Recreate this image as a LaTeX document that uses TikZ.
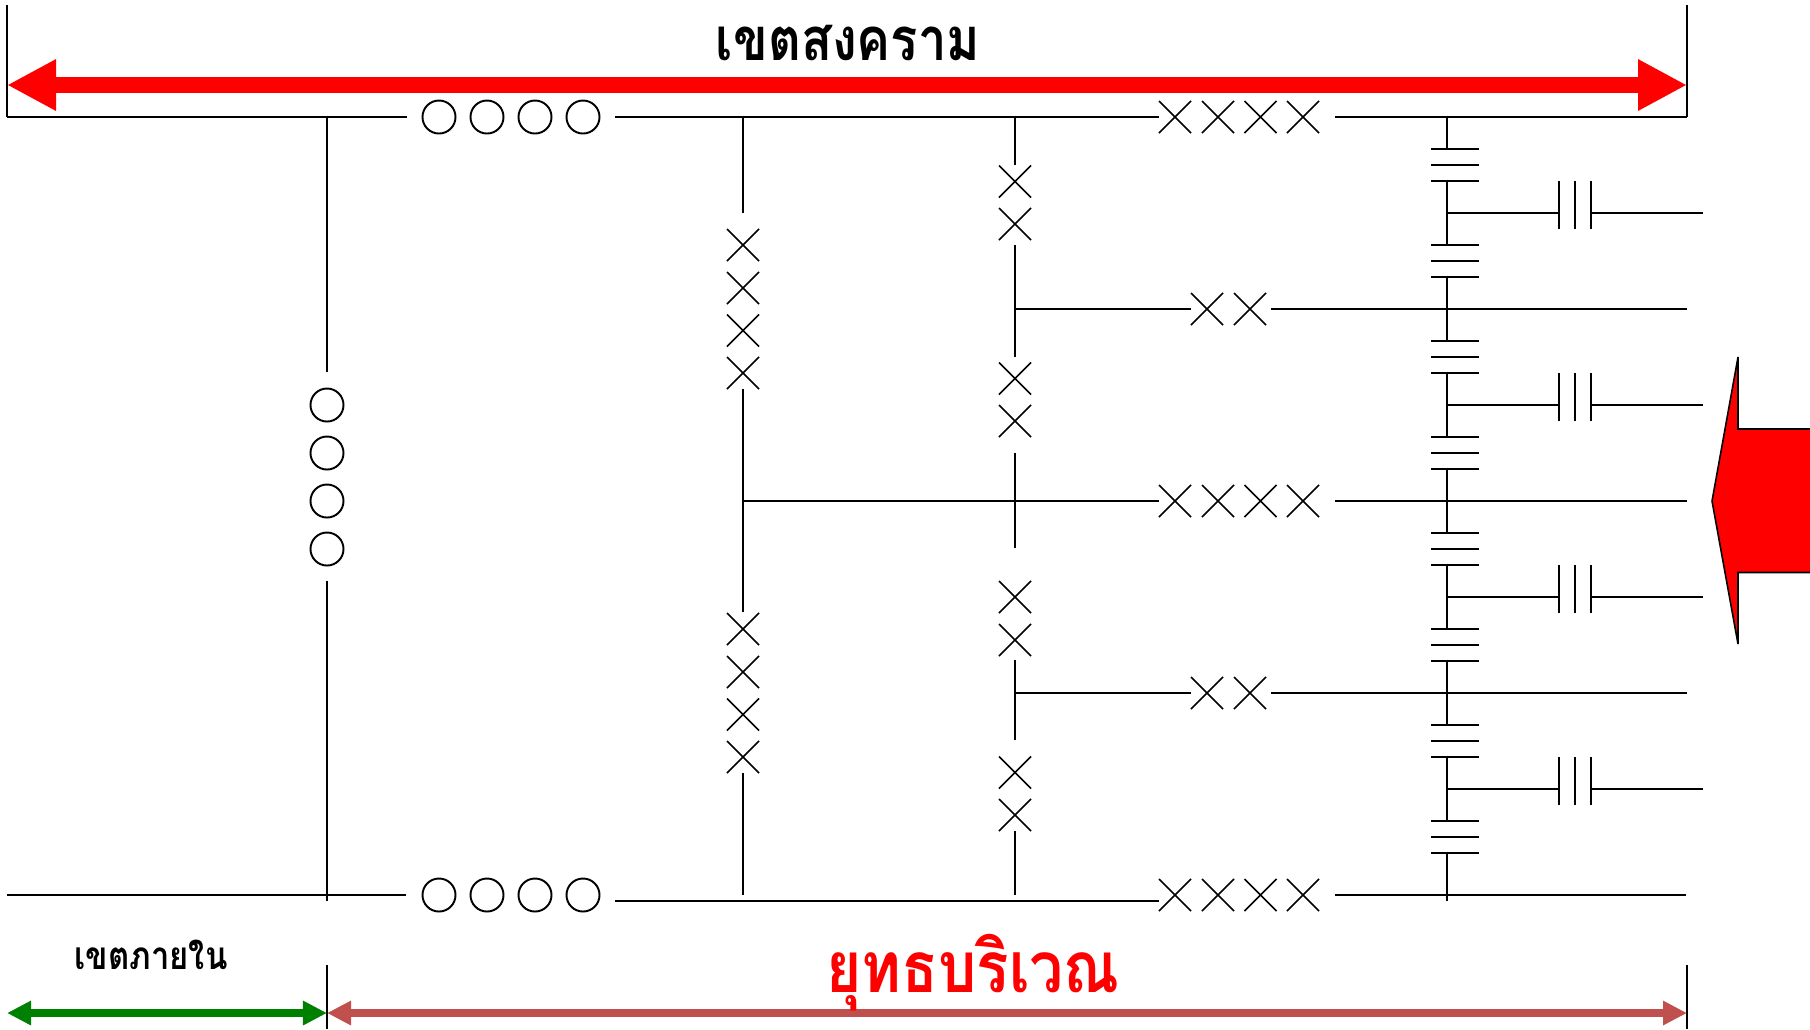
\documentclass[tikz,border=0pt]{standalone}
\usepackage{fontspec}
\newfontfamily\thaifont[Script=Thai,FakeStretch=0.85]{Loma}
\usetikzlibrary{positioning,shapes.misc,arrows.meta}
\definecolor{cred}{RGB}{255,0,0}
\definecolor{cgreen}{RGB}{0,128,0}
\definecolor{cbrick}{RGB}{192,80,77}

\begin{document}
\begin{tikzpicture}[x=0.01cm, y=-0.01cm,
    wire/.style={line width=0.55pt, color=black},
    thin wire/.style={line width=0.45pt, color=black},
    ring/.style={circle, draw, line width=0.55pt, minimum size=0.33cm, inner sep=0pt, outer sep=0pt},
    xmark/.style={cross out, draw, line width=0.45pt, minimum width=0.32cm, minimum height=0.32cm,
                  inner sep=0pt, outer sep=0pt},
    hplate/.style={rectangle, fill=black, minimum width=0.48cm, minimum height=0.017cm, inner sep=0pt, outer sep=0pt},
    vplate/.style={rectangle, fill=black, minimum width=0.017cm, minimum height=0.48cm, inner sep=0pt, outer sep=0pt},
    zone/.style={font=\thaifont\bfseries, inner sep=0pt},
    redspan/.style={{Triangle[length=0.49cm,width=0.48cm]}-{Triangle[length=0.49cm,width=0.48cm]}, line width=0.16cm, color=cred},
    smallspan/.style={{Triangle[length=0.24cm,width=0.23cm]}-{Triangle[length=0.24cm,width=0.23cm]}, line width=0.08cm},
  ]
  \useasboundingbox (0,0) rectangle (1810,1029);

  % Zone limits
  \coordinate (tl) at (7,117);
  \coordinate (tr) at (1687,117);
  \coordinate (tlup) at (7,5);
  \coordinate (trup) at (1687,5);
  \coordinate (mid) at (327,1013);
  \draw[wire] (tlup) -- (tl);
  \draw[wire] (trup) -- (tr);
  \draw[thin wire] (327,965) -- (327,1029);
  \draw[thin wire] (1687,965) -- (1687,1029);

  % Zone arrows
  \coordinate (ra) at (7,85);
  \coordinate (rb) at (1687,85);
  \coordinate (ga) at (7,1013);
  \coordinate (gb) at (1687,1013);
  \draw[redspan] (ra) -- (rb);
  \draw[smallspan, color=cgreen] (ga) -- (mid);
  \draw[smallspan, color=cbrick] (mid) -- (gb);
  \node[zone, font=\thaifont\bfseries\fontsize{17}{20}\selectfont] (front) at (848,43) {เขตสงคราม};
  \node[zone, font=\thaifont\bfseries\fontsize{11}{13}\selectfont] (rear) at (151,955) {เขตภายใน};
  \node[zone, font=\thaifont\bfseries\fontsize{20.2}{24}\selectfont, text=cred] (theatre) at (973,973) {ยุทธบริเวณ};

  % Attack arrow
  \draw[line width=0.45pt, fill=cred] (1810,429) -- (1738,429) -- (1738,357) -- (1712,501)
    -- (1738,644) -- (1738,572.5) -- (1810,572.5);

  % Top row
  \node[ring] (ta) at (439,117) {};
  \node[ring] (tb) at (487,117) {};
  \node[ring] (tc) at (535,117) {};
  \node[ring] (td) at (583,117) {};
  \node[xmark] (te) at (1175,117) {};
  \node[xmark] (tf) at (1218,117) {};
  \node[xmark] (tg) at (1260.5,117) {};
  \node[xmark] (th) at (1303,117) {};
  \coordinate (t1) at (407,117);
  \coordinate (t2) at (615,117);
  \coordinate (t3) at (1335,117);
  \draw[wire] (tl) -- (t1);
  \draw[wire] (t2) -- (te.west);
  \draw[wire] (t3) -- (tr);

  % Bottom row
  \node[ring] (ba) at (439,895) {};
  \node[ring] (bb) at (487,895) {};
  \node[ring] (bc) at (535,895) {};
  \node[ring] (bd) at (583,895) {};
  \node[xmark] (be) at (1175,895) {};
  \node[xmark] (bf) at (1218,895) {};
  \node[xmark] (bg) at (1260.5,895) {};
  \node[xmark] (bh) at (1303,895) {};
  \coordinate (bl) at (7,895);
  \coordinate (b1) at (406,895);
  \coordinate (b2) at (615,901);
  \coordinate (b3) at (1159,901);
  \coordinate (b4) at (1335,895);
  \coordinate (br) at (1686,895);
  \draw[wire] (bl) -- (b1);
  \draw[wire] (b2) -- (b3);
  \draw[wire] (b4) -- (br);

  % Rear column
  \node[ring] (ra1) at (327,405) {};
  \node[ring] (ra2) at (327,453) {};
  \node[ring] (ra3) at (327,501) {};
  \node[ring] (ra4) at (327,549) {};
  \coordinate (rtop) at (327,117);
  \coordinate (rup) at (327,372);
  \coordinate (rdn) at (327,580.5);
  \coordinate (rbot) at (327,900.5);
  \draw[thin wire] (rtop) -- (rup);
  \draw[thin wire] (rdn) -- (rbot);

  % Left column
  \node[xmark] (la1) at (743,245) {};
  \node[xmark] (la2) at (743,288) {};
  \node[xmark] (la3) at (743,330.5) {};
  \node[xmark] (la4) at (743,373) {};
  \node[xmark] (la5) at (743,629) {};
  \node[xmark] (la6) at (743,672) {};
  \node[xmark] (la7) at (743,714.5) {};
  \node[xmark] (la8) at (743,757) {};
  \coordinate (ltop) at (743,117);
  \coordinate (lup) at (743,213);
  \coordinate (lj) at (743,501);
  \coordinate (ldn) at (743,612);
  \coordinate (lbot) at (743,895);
  \draw[thin wire] (ltop) -- (lup);
  \draw[thin wire] (la4.south) -- (ldn);
  \draw[thin wire] (la8.south) -- (lbot);

  % Middle column
  \node[xmark] (ma1) at (1015,181.5) {};
  \node[xmark] (ma2) at (1015,224) {};
  \node[xmark] (ma3) at (1015,378.5) {};
  \node[xmark] (ma4) at (1015,421) {};
  \node[xmark] (ma5) at (1015,597) {};
  \node[xmark] (ma6) at (1015,640) {};
  \node[xmark] (ma7) at (1015,772.5) {};
  \node[xmark] (ma8) at (1015,815) {};
  \coordinate (mtop) at (1015,117);
  \coordinate (m1) at (1015,165);
  \coordinate (m2) at (1015,245);
  \coordinate (m3) at (1015,356.5);
  \coordinate (m4) at (1015,452.5);
  \coordinate (m5) at (1015,548);
  \coordinate (m6) at (1015,660);
  \coordinate (m7) at (1015,740);
  \coordinate (m8) at (1015,831);
  \coordinate (m9) at (1015,895);
  \draw[thin wire] (mtop) -- (m1);
  \draw[thin wire] (m2) -- (m3);
  \draw[thin wire] (m4) -- (m5);
  \draw[thin wire] (m6) -- (m7);
  \draw[thin wire] (m8) -- (m9);

  % Branches
  \node[xmark] (sa) at (1207,309) {};
  \node[xmark] (sb) at (1250,309) {};
  \node[xmark] (ua) at (1207,693) {};
  \node[xmark] (ub) at (1250,693) {};
  \node[xmark] (ce) at (1175,501) {};
  \node[xmark] (cf) at (1218,501) {};
  \node[xmark] (cg) at (1260.5,501) {};
  \node[xmark] (ch) at (1303,501) {};
  \coordinate (s1) at (1015,309);
  \coordinate (s2) at (1271,309);
  \coordinate (s3) at (1687,309);
  \coordinate (u1) at (1015,693);
  \coordinate (u2) at (1271,693);
  \coordinate (u3) at (1687,693);
  \coordinate (c1) at (1335,501);
  \coordinate (c2) at (1687,501);
  \draw[wire] (s1) -- (sa.west);
  \draw[wire] (s2) -- (s3);
  \draw[wire] (u1) -- (ua.west);
  \draw[wire] (u2) -- (u3);
  \draw[wire] (lj) -- (ce.west);
  \draw[wire] (c1) -- (c2);

  % Right column
  \coordinate (rc) at (1447,117);
  \node[hplate] (p1a) at (1455,149) {};
  \node[hplate] (p1b) at (1455,165) {};
  \node[hplate] (p1c) at (1455,181) {};
  \node[hplate] (p2a) at (1455,245) {};
  \node[hplate] (p2b) at (1455,261) {};
  \node[hplate] (p2c) at (1455,277) {};
  \node[hplate] (p3a) at (1455,341) {};
  \node[hplate] (p3b) at (1455,357) {};
  \node[hplate] (p3c) at (1455,373) {};
  \node[hplate] (p4a) at (1455,437) {};
  \node[hplate] (p4b) at (1455,453) {};
  \node[hplate] (p4c) at (1455,469) {};
  \node[hplate] (p5a) at (1455,533) {};
  \node[hplate] (p5b) at (1455,549) {};
  \node[hplate] (p5c) at (1455,565) {};
  \node[hplate] (p6a) at (1455,629) {};
  \node[hplate] (p6b) at (1455,645) {};
  \node[hplate] (p6c) at (1455,661) {};
  \node[hplate] (p7a) at (1455,725) {};
  \node[hplate] (p7b) at (1455,741) {};
  \node[hplate] (p7c) at (1455,757) {};
  \node[hplate] (p8a) at (1455,821) {};
  \node[hplate] (p8b) at (1455,837) {};
  \node[hplate] (p8c) at (1455,853) {};
  \coordinate (rcend) at (1447,900.5);
  \draw[wire] (rc) -- (rc |- p1a);
  \draw[wire] (rc |- p1c) -- (rc |- p2a);
  \draw[wire] (rc |- p2c) -- (rc |- p3a);
  \draw[wire] (rc |- p3c) -- (rc |- p4a);
  \draw[wire] (rc |- p4c) -- (rc |- p5a);
  \draw[wire] (rc |- p5c) -- (rc |- p6a);
  \draw[wire] (rc |- p6c) -- (rc |- p7a);
  \draw[wire] (rc |- p7c) -- (rc |- p8a);
  \draw[wire] (rc |- p8c) -- (rcend);

  % Side stubs
  \node[vplate] (qa1) at (1559,205) {};
  \node[vplate] (qa2) at (1575,205) {};
  \node[vplate] (qa3) at (1591,205) {};
  \node[vplate] (qb1) at (1559,397) {};
  \node[vplate] (qb2) at (1575,397) {};
  \node[vplate] (qb3) at (1591,397) {};
  \node[vplate] (qc1) at (1559,589) {};
  \node[vplate] (qc2) at (1575,589) {};
  \node[vplate] (qc3) at (1591,589) {};
  \node[vplate] (qd1) at (1559,781) {};
  \node[vplate] (qd2) at (1575,781) {};
  \node[vplate] (qd3) at (1591,781) {};
  \coordinate (ja) at (1447,213);
  \coordinate (jb) at (1447,405);
  \coordinate (jc) at (1447,597);
  \coordinate (jd) at (1447,789);
  \coordinate (ea) at (1703,213);
  \coordinate (eb) at (1703,405);
  \coordinate (ec) at (1703,597);
  \coordinate (ed) at (1703,789);
  \draw[wire] (ja) -- (ja -| qa1);
  \draw[wire] (ja -| qa3) -- (ea);
  \draw[wire] (jb) -- (jb -| qb1);
  \draw[wire] (jb -| qb3) -- (eb);
  \draw[wire] (jc) -- (jc -| qc1);
  \draw[wire] (jc -| qc3) -- (ec);
  \draw[wire] (jd) -- (jd -| qd1);
  \draw[wire] (jd -| qd3) -- (ed);
\end{tikzpicture}
\end{document}
